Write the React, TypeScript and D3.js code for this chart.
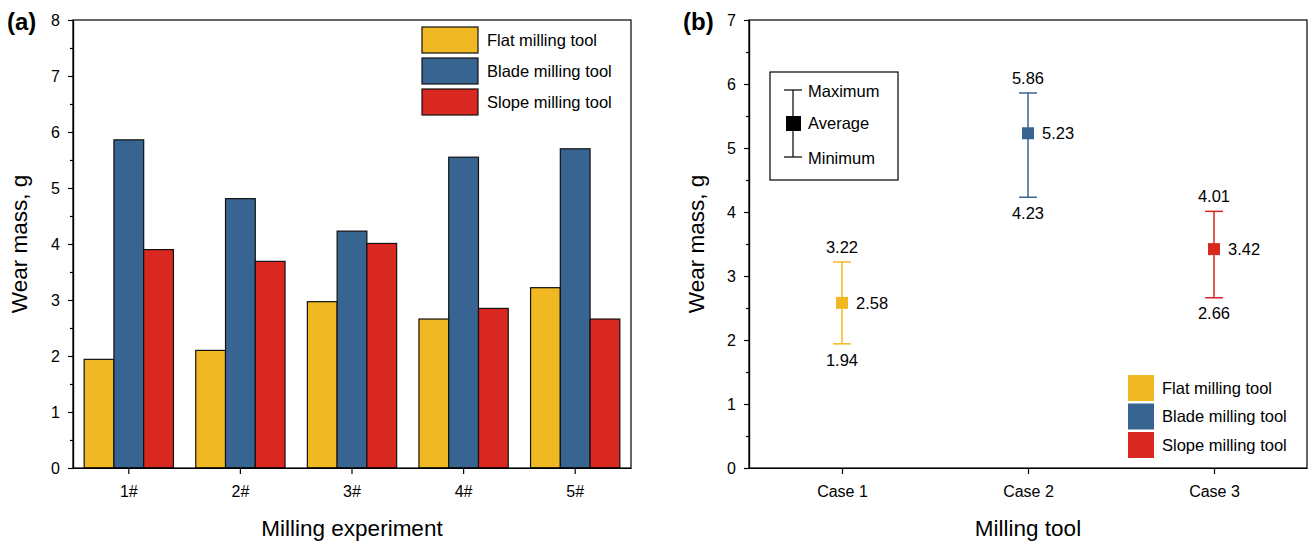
import React, { useEffect, useRef } from 'react';
import * as d3 from 'd3';

const experiments = ['1#', '2#', '3#', '4#', '5#'];
const tools = ['Flat milling tool', 'Blade milling tool', 'Slope milling tool'];
const toolColors = ['#F0B923', '#386491', '#D8281F'];
const flatWear = [1.94, 2.10, 2.97, 2.66, 3.22];
const bladeWear = [5.86, 4.81, 4.23, 5.55, 5.70];
const slopeWear = [3.90, 3.69, 4.01, 2.85, 2.66];

const cases = ['Case 1', 'Case 2', 'Case 3'];
const caseMax = [3.22, 5.86, 4.01];
const caseAvg = [2.58, 5.23, 3.42];
const caseMin = [1.94, 4.23, 2.66];

const FONT = '"Liberation Sans", Arial, Helvetica, sans-serif';

export default function App() {
    const ref = useRef<SVGSVGElement>(null);

    useEffect(() => {
        const svg = d3.select(ref.current);
        svg.selectAll('*').remove();
        svg.style('font-family', FONT);

        const styleAxis = (g: any) => {
            g.attr('font-family', null).attr('font-size', null);
            g.selectAll('path').attr('stroke', '#000').attr('stroke-width', 1.2);
            g.selectAll('line').attr('stroke', '#000').attr('stroke-width', 1.2);
            g.selectAll('text').style('font-size', '16px').style('font-family', FONT).attr('fill', '#000');
        };
        const txt = (sel: any, size: number) => sel.style('font-size', `${size}px`).style('font-family', FONT);

        // ---------- panel (a) ----------
        const a = { left: 73, right: 631, top: 20, bottom: 468 };
        const series = [flatWear, bladeWear, slopeWear];

        const x0 = d3.scaleBand().domain(experiments).range([a.left, a.right])
            .paddingInner(0.2).paddingOuter(0.1);
        const x1 = d3.scaleBand().domain(tools).range([0, x0.bandwidth()]);
        const yA = d3.scaleLinear().domain([0, 8]).range([a.bottom, a.top]);

        const gA = svg.append('g');
        experiments.forEach((exp, i) => {
            gA.append('g')
                .selectAll('rect')
                .data(tools)
                .enter()
                .append('rect')
                .attr('x', t => (x0(exp) as number) + (x1(t) as number))
                .attr('y', (t, j) => yA(series[j][i]))
                .attr('width', x1.bandwidth())
                .attr('height', (t, j) => yA(0) - yA(series[j][i]))
                .attr('fill', (t, j) => toolColors[j])
                .attr('stroke', '#111')
                .attr('stroke-width', 1.2);
        });

        gA.append('rect')
            .attr('x', a.left).attr('y', a.top)
            .attr('width', a.right - a.left).attr('height', a.bottom - a.top)
            .attr('fill', 'none').attr('stroke', '#000').attr('stroke-width', 1.2);

        gA.append('g')
            .attr('transform', `translate(${a.left},0)`)
            .call(d3.axisLeft(yA).tickValues(d3.range(0.5, 8, 1)).tickSize(3).tickFormat(() => '').tickSizeOuter(0))
            .call(styleAxis);
        gA.append('g')
            .attr('transform', `translate(${a.left},0)`)
            .call(d3.axisLeft(yA).tickValues(d3.range(0, 9, 1)).tickSize(5).tickPadding(8).tickFormat(d3.format('d')).tickSizeOuter(0))
            .call(styleAxis);
        gA.append('g')
            .attr('transform', `translate(0,${a.bottom})`)
            .call(d3.axisBottom(x0).tickSize(6).tickPadding(12).tickSizeOuter(0))
            .call(styleAxis);

        // legend (a)
        tools.forEach((t, j) => {
            gA.append('rect')
                .attr('x', 422).attr('y', 27 + j * 31)
                .attr('width', 56).attr('height', 26)
                .attr('fill', toolColors[j]).attr('stroke', '#111').attr('stroke-width', 1.2);
            txt(gA.append('text')
                .attr('x', 487).attr('y', 40 + j * 31)
                .attr('dy', '0.35em'), 16.5)
                .text(t);
        });

        txt(gA.append('text')
            .attr('transform', `translate(27,${(a.top + a.bottom) / 2}) rotate(-90)`)
            .attr('text-anchor', 'middle'), 22.5)
            .text('Wear mass, g');
        txt(gA.append('text')
            .attr('x', (a.left + a.right) / 2).attr('y', 536)
            .attr('text-anchor', 'middle'), 22.5)
            .text('Milling experiment');
        txt(gA.append('text')
            .attr('x', 7).attr('y', 30)
            .attr('font-weight', 'bold'), 24)
            .text('(a)');

        // ---------- panel (b) ----------
        const b = { left: 749, right: 1307, top: 20, bottom: 468 };
        const xB = d3.scalePoint().domain(cases).range([b.left, b.right]).padding(0.5);
        const yB = d3.scaleLinear().domain([0, 7]).range([b.bottom, b.top]);
        const gB = svg.append('g');

        gB.append('rect')
            .attr('x', b.left).attr('y', b.top)
            .attr('width', b.right - b.left).attr('height', b.bottom - b.top)
            .attr('fill', 'none').attr('stroke', '#000').attr('stroke-width', 1.2);

        gB.append('g')
            .attr('transform', `translate(${b.left},0)`)
            .call(d3.axisLeft(yB).tickValues(d3.range(0.5, 7, 1)).tickSize(3).tickFormat(() => '').tickSizeOuter(0))
            .call(styleAxis);
        gB.append('g')
            .attr('transform', `translate(${b.left},0)`)
            .call(d3.axisLeft(yB).tickValues(d3.range(0, 8, 1)).tickSize(5).tickPadding(8).tickFormat(d3.format('d')).tickSizeOuter(0))
            .call(styleAxis);
        gB.append('g')
            .attr('transform', `translate(0,${b.bottom})`)
            .call(d3.axisBottom(xB).tickSize(6).tickPadding(12).tickSizeOuter(0))
            .call(styleAxis);

        const cap = 9;
        const mk = 12;
        cases.forEach((c, i) => {
            const cx = xB(c) as number;
            const col = toolColors[i];
            const g = gB.append('g');
            g.append('line').attr('x1', cx).attr('x2', cx)
                .attr('y1', yB(caseMax[i])).attr('y2', yB(caseMin[i]))
                .attr('stroke', col).attr('stroke-width', 1.5);
            [caseMax[i], caseMin[i]].forEach(v => {
                g.append('line').attr('x1', cx - cap).attr('x2', cx + cap)
                    .attr('y1', yB(v)).attr('y2', yB(v))
                    .attr('stroke', col).attr('stroke-width', 1.5);
            });
            g.append('rect')
                .attr('x', cx - mk / 2).attr('y', yB(caseAvg[i]) - mk / 2)
                .attr('width', mk).attr('height', mk).attr('fill', col);
            txt(g.append('text').attr('x', cx).attr('y', yB(caseMax[i]) - 9)
                .attr('text-anchor', 'middle'), 16.5)
                .text(caseMax[i].toFixed(2));
            txt(g.append('text').attr('x', cx).attr('y', yB(caseMin[i]) + 10)
                .attr('dy', '0.71em')
                .attr('text-anchor', 'middle'), 16.5)
                .text(caseMin[i].toFixed(2));
            txt(g.append('text').attr('x', cx + 14).attr('y', yB(caseAvg[i]))
                .attr('dy', '0.35em'), 16.5)
                .text(caseAvg[i].toFixed(2));
        });

        // legend box (b)
        const lg = gB.append('g');
        lg.append('rect').attr('x', 770).attr('y', 72).attr('width', 128).attr('height', 108)
            .attr('fill', '#fff').attr('stroke', '#000').attr('stroke-width', 1.2);
        lg.append('line').attr('x1', 793).attr('x2', 793).attr('y1', 90).attr('y2', 157)
            .attr('stroke', '#000').attr('stroke-width', 1.2);
        [90, 157].forEach(yy => {
            lg.append('line').attr('x1', 784).attr('x2', 802).attr('y1', yy).attr('y2', yy)
                .attr('stroke', '#000').attr('stroke-width', 1.2);
        });
        lg.append('rect').attr('x', 786).attr('y', 116).attr('width', 15).attr('height', 15).attr('fill', '#000');
        [['Maximum', 91], ['Average', 123], ['Minimum', 158]].forEach(([t, yy]) => {
            txt(lg.append('text').attr('x', 808).attr('y', yy as number).attr('dy', '0.35em'), 16.5)
                .text(t as string);
        });

        // legend (b) tools
        tools.forEach((t, j) => {
            gB.append('rect')
                .attr('x', 1128).attr('y', 375 + j * 28.5)
                .attr('width', 26).attr('height', 26)
                .attr('fill', toolColors[j]);
            txt(gB.append('text')
                .attr('x', 1162).attr('y', 388 + j * 28.5)
                .attr('dy', '0.35em'), 16.5)
                .text(t);
        });

        txt(gB.append('text')
            .attr('transform', `translate(704,${(b.top + b.bottom) / 2}) rotate(-90)`)
            .attr('text-anchor', 'middle'), 22.5)
            .text('Wear mass, g');
        txt(gB.append('text')
            .attr('x', (b.left + b.right) / 2).attr('y', 536)
            .attr('text-anchor', 'middle'), 22.5)
            .text('Milling tool');
        txt(gB.append('text')
            .attr('x', 683).attr('y', 30)
            .attr('font-weight', 'bold'), 24)
            .text('(b)');
    }, []);

    return (
        <svg
            ref={ref}
            width={1314}
            height={545}
            style={{ position: 'absolute', left: 0, top: 0, background: '#fff' }}
        />
    );
}
